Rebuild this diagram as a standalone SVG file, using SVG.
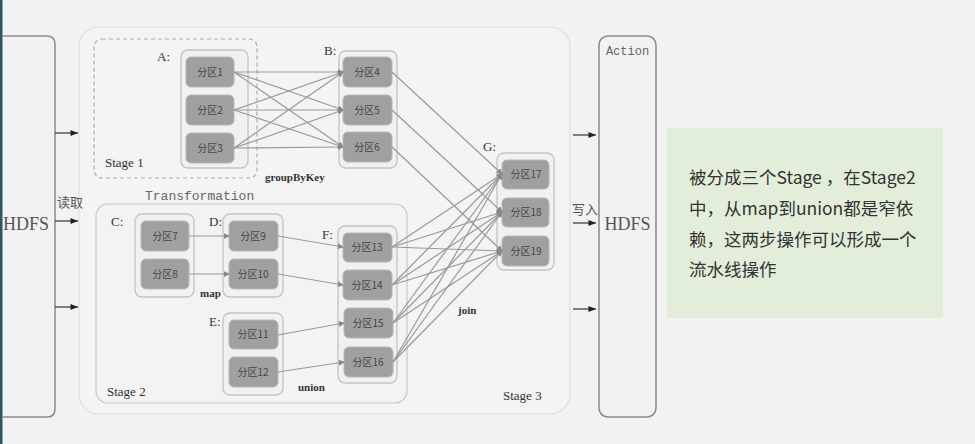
<svg xmlns="http://www.w3.org/2000/svg" width="975" height="444" viewBox="0 0 975 444">
<defs>
<style>
.bg{fill:#f2f2f2}
.outer{fill:#f4f4f4;stroke:#dedede;stroke-width:1.2}
.stage{fill:#f3f3f3;stroke:#c8c8c8;stroke-width:1.2}
.dash{fill:none;stroke:#aaaaaa;stroke-width:1.2;stroke-dasharray:4 3}
.cont{fill:#f1f1f1;stroke:#c4c4c4;stroke-width:1.3}
.part{fill:#a0a0a0;stroke:#b8b8b8;stroke-width:1}
.pt{font-family:"Noto Sans CJK SC","Liberation Serif",serif;font-size:10px;fill:#444;text-anchor:middle}
.lbl{font-family:"Liberation Serif",serif;font-size:13px;fill:#333}
.op{font-family:"Liberation Serif",serif;font-size:11px;fill:#333;font-weight:bold}
.mono{font-family:"Liberation Mono",monospace;font-size:13px;fill:#666}
.hd{fill:none;stroke:#8a8a8a;stroke-width:1.5}
.hdt{font-family:"Liberation Serif",serif;font-size:18px;fill:#555;text-anchor:middle}
.cn{font-family:"Noto Sans CJK SC",sans-serif;font-size:13px;fill:#555}
.conn line{stroke:#999;stroke-width:1.2;marker-end:url(#ah)}
.io line{stroke:#333;stroke-width:1.2;marker-end:url(#bh)}
.note{font-family:"Noto Sans CJK SC",sans-serif;font-size:17.5px;fill:#333}
</style>
<marker id="ah" viewBox="0 0 8 8" refX="7" refY="4" markerWidth="6" markerHeight="6" orient="auto" markerUnits="userSpaceOnUse"><path d="M0,0 L8,4 L0,8 z" fill="#888"/></marker>
<marker id="bh" viewBox="0 0 10 8" refX="10" refY="4" markerWidth="8" markerHeight="6" orient="auto" markerUnits="userSpaceOnUse"><path d="M0,0 L10,4 L0,8 z" fill="#222"/></marker>
</defs>
<rect class="bg" x="0" y="0" width="975" height="444"/>
<rect x="0" y="0" width="2.5" height="444" fill="#2b5866"/>

<g id="hdfs-in">
<path class="hd" d="M2,36 H47 Q55,36 55,44 V409 Q55,417 47,417 H2"/>
<text class="hdt" x="26" y="230">HDFS</text>
</g>

<g id="transformation">
<rect class="outer" x="79" y="27" width="491" height="387" rx="20"/>
<text class="mono" x="145" y="200">Transformation</text>
</g>

<g id="stage1">
<rect class="dash" x="94" y="39" width="163" height="139" rx="8"/>
<text class="lbl" x="105" y="167">Stage 1</text>
</g>
<g id="stage2">
<rect class="stage" x="96" y="204" width="311" height="199" rx="12"/>
<text class="lbl" x="107" y="396">Stage 2</text>
</g>
<text class="lbl" x="503" y="400">Stage 3</text>

<g id="A">
<text class="lbl" x="157" y="61">A:</text>
<rect class="cont" x="181" y="50" width="67" height="118" rx="7"/>
<rect class="part" x="186" y="57" width="48" height="30" rx="5"/><text class="pt" x="210" y="76">分区1</text>
<rect class="part" x="186" y="95" width="48" height="30" rx="5"/><text class="pt" x="210" y="114">分区2</text>
<rect class="part" x="186" y="133" width="48" height="30" rx="5"/><text class="pt" x="210" y="152">分区3</text>
</g>
<g id="B">
<text class="lbl" x="324" y="55">B:</text>
<rect class="cont" x="339" y="51" width="58" height="117" rx="7"/>
<rect class="part" x="343" y="57" width="49" height="30" rx="5"/><text class="pt" x="367" y="76">分区4</text>
<rect class="part" x="343" y="95" width="49" height="30" rx="5"/><text class="pt" x="367" y="114">分区5</text>
<rect class="part" x="343" y="132" width="49" height="30" rx="5"/><text class="pt" x="367" y="151">分区6</text>
</g>
<g id="G">
<text class="lbl" x="483" y="151">G:</text>
<rect class="cont" x="497" y="153" width="57" height="117" rx="7"/>
<rect class="part" x="502" y="160" width="47" height="29" rx="5"/><text class="pt" x="526" y="178">分区17</text>
<rect class="part" x="502" y="198" width="47" height="29" rx="5"/><text class="pt" x="526" y="216">分区18</text>
<rect class="part" x="502" y="236" width="47" height="30" rx="5"/><text class="pt" x="526" y="255">分区19</text>
</g>
<g id="C">
<text class="lbl" x="111" y="226">C:</text>
<rect class="cont" x="135" y="214" width="59" height="83" rx="7"/>
<rect class="part" x="141" y="221" width="48" height="30" rx="5"/><text class="pt" x="165" y="240">分区7</text>
<rect class="part" x="141" y="259" width="48" height="30" rx="5"/><text class="pt" x="165" y="278">分区8</text>
</g>
<g id="D">
<text class="lbl" x="209" y="226">D:</text>
<rect class="cont" x="223" y="214" width="60" height="83" rx="7"/>
<rect class="part" x="229" y="221" width="49" height="30" rx="5"/><text class="pt" x="253" y="240">分区9</text>
<rect class="part" x="229" y="259" width="49" height="30" rx="5"/><text class="pt" x="253" y="278">分区10</text>
</g>
<text class="op" x="200" y="297">map</text>
<g id="E">
<text class="lbl" x="209" y="326">E:</text>
<rect class="cont" x="223" y="313" width="60" height="82" rx="7"/>
<rect class="part" x="229" y="320" width="49" height="29" rx="5"/><text class="pt" x="253" y="338">分区11</text>
<rect class="part" x="229" y="357" width="49" height="30" rx="5"/><text class="pt" x="253" y="376">分区12</text>
</g>
<text class="op" x="298" y="391">union</text>
<g id="F">
<text class="lbl" x="322" y="239">F:</text>
<rect class="cont" x="338" y="226" width="59" height="157" rx="7"/>
<rect class="part" x="343" y="233" width="49" height="29" rx="5"/><text class="pt" x="367" y="251">分区13</text>
<rect class="part" x="343" y="270" width="49" height="30" rx="5"/><text class="pt" x="367" y="289">分区14</text>
<rect class="part" x="344" y="308" width="49" height="30" rx="5"/><text class="pt" x="368" y="327">分区15</text>
<rect class="part" x="344" y="347" width="49" height="30" rx="5"/><text class="pt" x="368" y="366">分区16</text>
</g>
<text class="op" x="458" y="314">join</text>
<text class="op" x="265" y="181">groupByKey</text>

<g id="connectors">
<g class="conn">
<line x1="234" y1="72" x2="343" y2="72"/><line x1="234" y1="72" x2="343" y2="110"/><line x1="234" y1="72" x2="343" y2="147"/>
<line x1="234" y1="110" x2="343" y2="72"/><line x1="234" y1="110" x2="343" y2="110"/><line x1="234" y1="110" x2="343" y2="147"/>
<line x1="234" y1="148" x2="343" y2="72"/><line x1="234" y1="148" x2="343" y2="110"/><line x1="234" y1="148" x2="343" y2="147"/>
<line x1="392" y1="72" x2="502" y2="174"/><line x1="392" y1="110" x2="502" y2="212"/><line x1="392" y1="147" x2="502" y2="251"/>
<line x1="189" y1="236" x2="229" y2="236"/><line x1="189" y1="274" x2="229" y2="274"/>
<line x1="278" y1="236" x2="343" y2="247"/><line x1="278" y1="274" x2="343" y2="285"/>
<line x1="278" y1="335" x2="344" y2="323"/><line x1="278" y1="372" x2="344" y2="362"/>
<line x1="392" y1="247" x2="502" y2="174"/><line x1="392" y1="247" x2="502" y2="212"/><line x1="392" y1="247" x2="502" y2="251"/>
<line x1="392" y1="285" x2="502" y2="174"/><line x1="392" y1="285" x2="502" y2="212"/><line x1="392" y1="285" x2="502" y2="251"/>
<line x1="393" y1="323" x2="502" y2="174"/><line x1="393" y1="323" x2="502" y2="212"/><line x1="393" y1="323" x2="502" y2="251"/>
<line x1="393" y1="362" x2="502" y2="174"/><line x1="393" y1="362" x2="502" y2="212"/><line x1="393" y1="362" x2="502" y2="251"/>
</g>
<g class="io">
<line x1="55" y1="133" x2="78" y2="133"/><line x1="55" y1="221" x2="78" y2="221"/><line x1="55" y1="307" x2="78" y2="307"/>
<line x1="573" y1="135" x2="596" y2="135"/><line x1="573" y1="223" x2="596" y2="223"/><line x1="573" y1="309" x2="596" y2="309"/>
</g>
</g>
<text class="cn" x="57" y="207">读取</text>
<text class="cn" x="572" y="214">写入</text>

<g id="hdfs-out">
<rect class="hd" x="599" y="36" width="57" height="381" rx="9"/>
<text class="mono" x="627.5" y="55" text-anchor="middle" style="font-size:12px">Action</text>
<text class="hdt" x="627.5" y="230">HDFS</text>
</g>

<g id="note">
<rect x="667" y="128" width="276" height="190" fill="#e2eed9"/>
<text class="note" x="689" y="184">被分成三个Stage ，在Stage2</text>
<text class="note" x="689" y="215">中，从map到union都是窄依</text>
<text class="note" x="689" y="246">赖，这两步操作可以形成一个</text>
<text class="note" x="689" y="276">流水线操作</text>
</g>
</svg>
